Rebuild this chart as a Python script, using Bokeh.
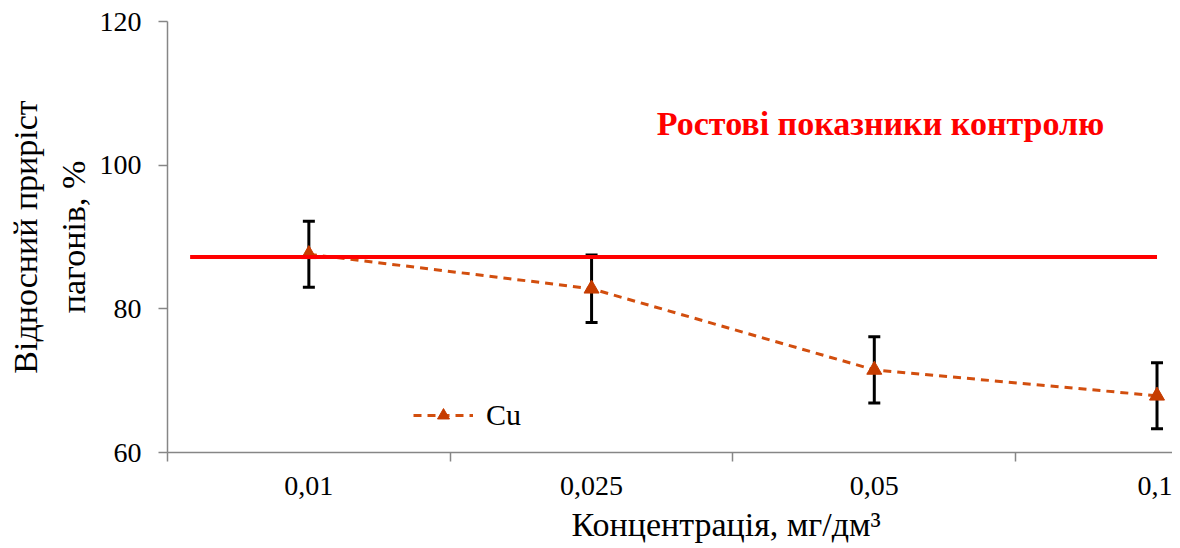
import math
from bokeh.plotting import figure
from bokeh.models import (FixedTicker, Range1d, Label, Whisker, TeeHead,
                          ColumnDataSource, Title)
from bokeh.embed import file_html
from bokeh.resources import INLINE

# ---- data ----
categories = ["0,01", "0,025", "0,05", "0,1"]
cu_values = [87.6, 82.8, 71.5, 67.9]
cu_errors = [4.6, 4.7, 4.6, 4.6]
control_value = 87.2
y_ticks = [60, 80, 100, 120]

series_name = "Cu"
control_label = "Ростові показники контролю"
x_title = "Концентрація, мг/дм³"
y_title_lines = ["Відносний приріст", "пагонів, %"]

FONT = "'Liberation Serif', 'Times New Roman', serif"
LINE_COLOR = "#D24E0E"
MARK_COLOR = "#C63C00"
AXIS_COLOR = "#868686"

x_pos = [i + 0.5 for i in range(len(categories))]
src = ColumnDataSource(dict(
    x=x_pos, y=cu_values,
    lower=[v - e for v, e in zip(cu_values, cu_errors)],
    upper=[v + e for v, e in zip(cu_values, cu_errors)],
))

p = figure(width=1172, height=548, output_backend="svg", toolbar_location=None,
           x_range=Range1d(0, 1006 / 283), y_range=Range1d(60, 120),
           min_border_left=166, min_border_right=0, min_border_top=21,
           min_border_bottom=96)
p.outline_line_color = None
p.grid.visible = False
p.background_fill_color = "white"
p.border_fill_color = "white"

# x axis
xt = FixedTicker(ticks=x_pos, minor_ticks=[0, 1, 2, 3])
p.xaxis.ticker = xt
p.xaxis.major_label_overrides = {x: c for x, c in zip(x_pos, categories)}
p.xaxis.major_tick_line_color = None
p.xaxis.minor_tick_line_color = AXIS_COLOR
p.xaxis.minor_tick_line_width = 1.5
p.xaxis.minor_tick_in = 0
p.xaxis.minor_tick_out = 9
p.xaxis.axis_line_color = AXIS_COLOR
p.xaxis.axis_line_width = 1.5
p.xaxis.major_label_text_font = FONT
p.xaxis.major_label_text_font_size = "28px"
p.xaxis.major_label_text_color = "black"
p.xaxis.major_label_standoff = 15

# y axis
p.yaxis.ticker = FixedTicker(ticks=y_ticks, minor_ticks=[])
p.yaxis.major_tick_in = 0
p.yaxis.major_tick_out = 9
p.yaxis.major_tick_line_color = AXIS_COLOR
p.yaxis.major_tick_line_width = 1.5
p.yaxis.axis_line_color = AXIS_COLOR
p.yaxis.axis_line_width = 1.5
p.yaxis.major_label_text_font = FONT
p.yaxis.major_label_text_font_size = "28px"
p.yaxis.major_label_text_color = "black"
p.yaxis.major_label_standoff = 17

# error bars
wh = Whisker(source=src, base="x", upper="upper", lower="lower",
             line_color="black", line_width=3,
             upper_head=TeeHead(size=12, line_color="black", line_width=3),
             lower_head=TeeHead(size=12, line_color="black", line_width=3))
p.add_layout(wh)

# series
p.line("x", "y", source=src, line_color=LINE_COLOR, line_width=3,
       line_dash="8 6", legend_label=series_name)
p.scatter("x", "y", source=src, marker="triangle", size=15,
          fill_color=MARK_COLOR, line_color=MARK_COLOR,
          legend_label=series_name)

# control line
p.segment(x0=[x_pos[0] - 0.42], y0=[control_value],
          x1=[x_pos[-1]], y1=[control_value],
          line_color="#FF0000", line_width=4)

# legend
lg = p.legend[0]
lg.location = (246, 20)
lg.border_line_color = None
lg.background_fill_alpha = 0
lg.padding = 0
lg.margin = 0
lg.spacing = 0
lg.glyph_width = 60
lg.glyph_height = 30
lg.label_height = 30
lg.label_standoff = 13
lg.label_text_font = FONT
lg.label_text_font_size = "30px"
lg.label_text_color = "black"

# control label (inside the frame)
p.add_layout(Label(x=713, y=329, x_units="screen", y_units="screen",
                   text=control_label, text_align="center",
                   text_baseline="alphabetic", text_font=FONT,
                   text_font_size="34px", text_font_style="bold",
                   text_color="#FF0000"))

# x title (offset to sit centred on the full category span)
p.add_layout(Title(text=x_title, align="left", offset=404, standoff=12,
                   text_font=FONT, text_font_size="34px",
                   text_font_style="normal", text_color="black"), "below")

# y title, two lines (the first added sits next to the axis)
p.add_layout(Title(text=y_title_lines[1], align="center", standoff=10,
                   text_font=FONT, text_font_size="34px",
                   text_font_style="normal", text_color="black"), "left")
p.add_layout(Title(text=y_title_lines[0], align="center", standoff=8,
                   text_font=FONT, text_font_size="34px",
                   text_font_style="normal", text_color="black"), "left")

open("out.html", "w").write(file_html(p, INLINE))
